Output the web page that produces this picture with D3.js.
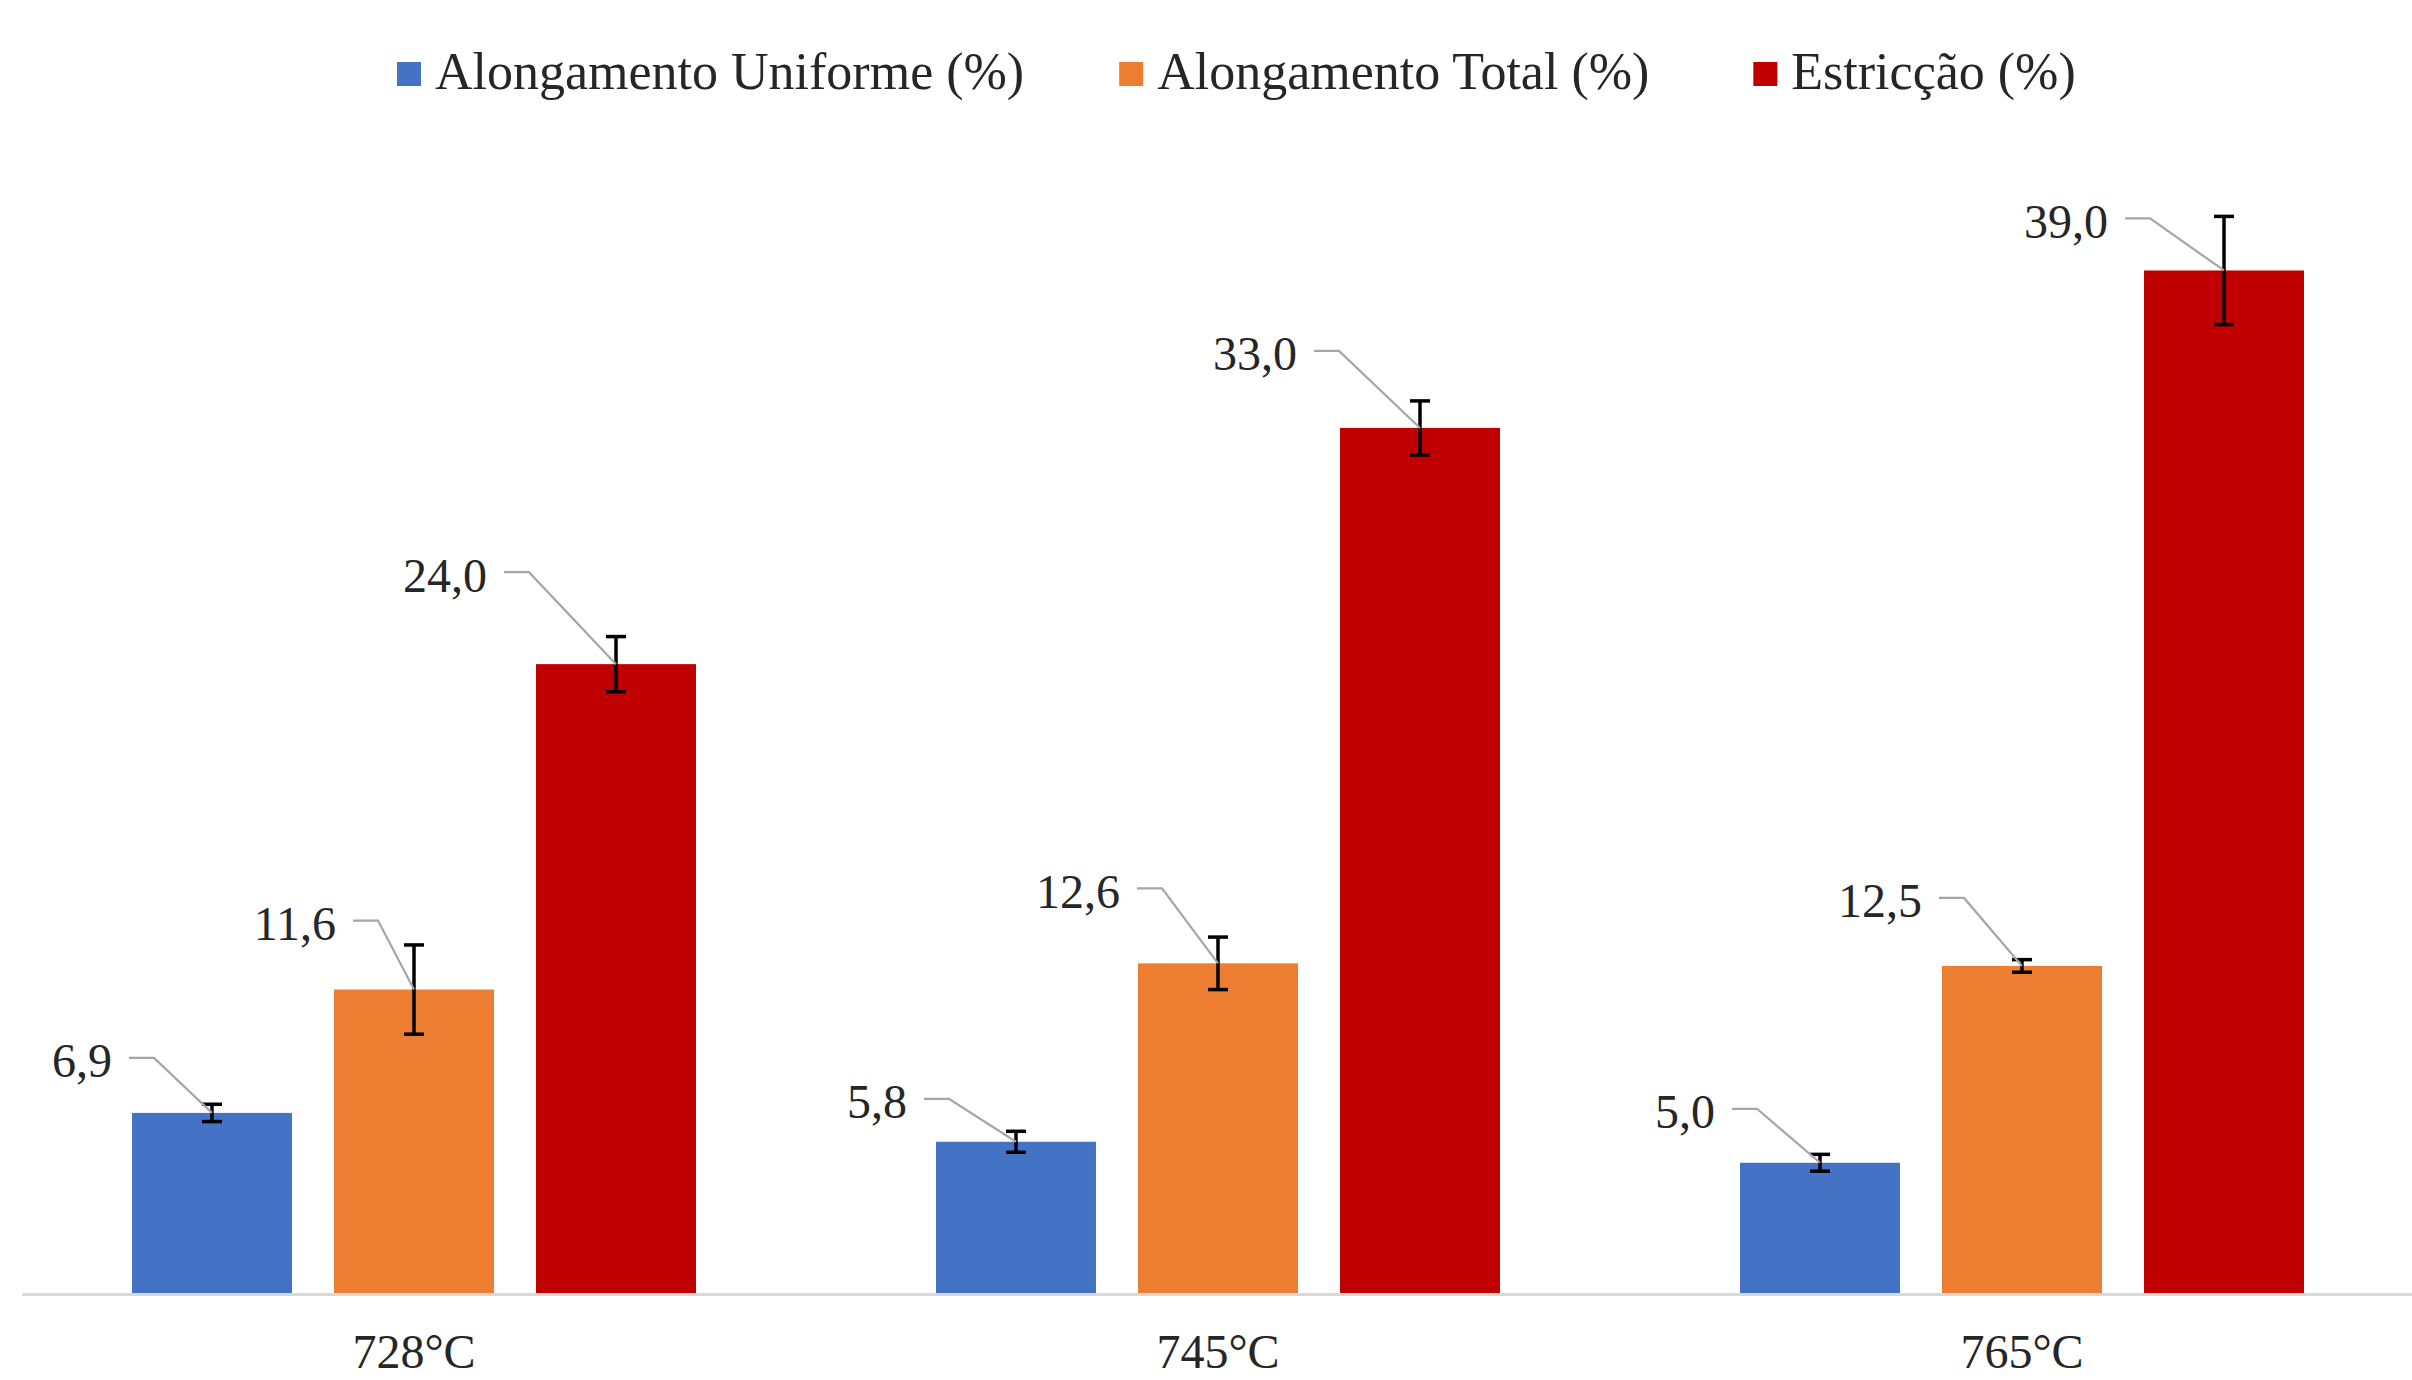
<!DOCTYPE html>
<html>
<head>
<meta charset="utf-8">
<script src="https://cdn.jsdelivr.net/npm/d3@7"></script>
<style>
  html, body { margin: 0; padding: 0; background: #ffffff; }
  svg { display: block; }
</style>
</head>
<body>
<svg id="chart" width="2412" height="1380"></svg>
<script>
// ---- DATA ----
const categories = ["728°C", "745°C", "765°C"];
const seriesNames = ["Alongamento Uniforme (%)", "Alongamento Total (%)", "Estricção (%)"];
const alongUniforme = [6.9, 5.8, 5.0];
const alongTotal = [11.6, 12.6, 12.5];
const estriccao = [24.0, 33.0, 39.0];
const errUniforme = [0.33, 0.40, 0.32];
const errTotal = [1.70, 1.00, 0.24];
const errEstriccao = [1.05, 1.03, 2.06];

// ---- STYLE / LAYOUT ----
const colors = ["#4472C4", "#ED7D31", "#C00000"];
const serif = "'Liberation Serif', 'Times New Roman', serif";
// label offsets (px) from the top-centre of each bar: [series][category]
const labelOffsets = [
  [[-100, -52], [-109, -40], [-105, -51]],
  [[-78, -66], [-98, -72], [-100, -65]],
  [[-129, -89], [-123, -74], [-116, -49]]
];

const values = [alongUniforme, alongTotal, estriccao];
const errors = [errUniforme, errTotal, errEstriccao];

const svg = d3.select("#chart");

const x0 = d3.scaleBand().domain(categories).range([12, 2424]).paddingInner(0).paddingOuter(0);
const x1 = d3.scaleBand().domain(d3.range(seriesNames.length)).range([0, x0.bandwidth()])
  .paddingInner(0.208).paddingOuter(0.594);
const y = d3.scaleLinear().domain([0, 45]).range([1294, 113]);

// flatten
const rows = [];
seriesNames.forEach((s, si) => {
  categories.forEach((c, ci) => {
    rows.push({ si, ci, cat: c, v: values[si][ci], e: errors[si][ci], off: labelOffsets[si][ci] });
  });
});

// bars
svg.append("g").selectAll("rect").data(rows).join("rect")
  .attr("x", d => x0(d.cat) + x1(d.si))
  .attr("y", d => y(d.v))
  .attr("width", x1.bandwidth())
  .attr("height", d => y(0) - y(d.v))
  .attr("fill", d => colors[d.si]);

// x axis
const xAxis = d3.axisBottom(x0).tickSize(0).tickPadding(0);
const gx = svg.append("g").attr("transform", `translate(0,${y(0)})`).call(xAxis);
gx.select(".domain").attr("d", `M22,0.5H2412`).attr("stroke", "#d9d9d9").attr("stroke-width", 3);
gx.selectAll(".tick text")
  .attr("y", 74).attr("dy", null)
  .attr("font-family", serif).attr("font-size", 48).attr("fill", "#262626");

// error bars
const eg = svg.append("g").attr("stroke", "#000").attr("stroke-width", 3.5).attr("fill", "none");
rows.forEach(d => {
  const cx = x0(d.cat) + x1(d.si) + x1.bandwidth() / 2;
  const y1 = y(d.v + d.e), y2 = y(d.v - d.e);
  eg.append("line").attr("x1", cx).attr("x2", cx).attr("y1", y1).attr("y2", y2);
  eg.append("line").attr("x1", cx - 10).attr("x2", cx + 10).attr("y1", y1).attr("y2", y1);
  eg.append("line").attr("x1", cx - 10).attr("x2", cx + 10).attr("y1", y2).attr("y2", y2);
});

// leader lines + labels
const fmt = v => d3.format(".1f")(v).replace(".", ",");
const lg = svg.append("g");
rows.forEach(d => {
  const cx = x0(d.cat) + x1(d.si) + x1.bandwidth() / 2;
  const ty = y(d.v);
  const tx = cx + d.off[0], tyc = ty + d.off[1];
  lg.append("text")
    .attr("x", tx).attr("y", tyc)
    .attr("text-anchor", "end").attr("dominant-baseline", "central")
    .attr("font-family", serif).attr("font-size", 48).attr("fill", "#262626")
    .text(fmt(d.v));
  const sx = tx + 17, sy = tyc - 3;
  lg.append("path")
    .attr("d", `M${sx},${sy}H${sx + 25}L${cx},${ty}`)
    .attr("fill", "none").attr("stroke", "#a6a6a6").attr("stroke-width", 2.2);
});

// legend
const leg = svg.append("g");
let lx = 397;
seriesNames.forEach((s, i) => {
  leg.append("rect").attr("x", lx).attr("y", 62).attr("width", 24).attr("height", 24).attr("fill", colors[i]);
  const t = leg.append("text").attr("x", lx + 38).attr("y", 89)
    .attr("font-family", serif).attr("font-size", 52).attr("fill", "#262626").text(s);
  lx = lx + 38 + t.node().getComputedTextLength() + (i === 0 ? 95 : 104);
});
</script>
</body>
</html>
